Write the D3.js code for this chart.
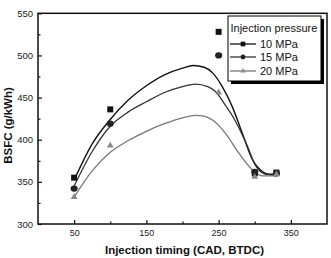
<!DOCTYPE html>
<html><head><meta charset="utf-8">
<script src="https://cdn.jsdelivr.net/npm/d3@7"></script>
<style>body{margin:0;background:#fff;} svg{display:block;font-family:"Liberation Sans",Arial,sans-serif;}</style>
</head><body>
<svg id="c" width="331" height="258"></svg>
<script>
// ---- data ----
const seriesNames = ["10 MPa", "15 MPa", "20 MPa"];
const timing = [50, 100, 250, 300, 330];
const bsfc10 = [355, 436, 528, 360, 361];
const bsfc15 = [342, 419, 500, 362, 360];
const bsfc20 = [332, 393, 456, 356, 359];
// fitted curves
const fitX10 = [50, 75, 100, 125, 150, 175, 200, 215, 230, 242, 255, 269, 283, 297, 311, 320, 330];
const fitY10 = [352, 395, 424, 447, 464, 477, 485, 488, 486, 479, 463, 439, 407, 376, 362, 359, 359];
const fitX15 = [50, 75, 100, 125, 150, 175, 200, 218, 235, 246, 260, 270, 288, 302, 315, 330];
const fitY15 = [345, 386, 416, 433, 445, 456, 463, 466, 463, 457, 440, 427, 396, 368, 359, 358];
const fitX20 = [50, 75, 100, 125, 150, 175, 200, 218, 230, 242, 260, 278, 297, 311, 330];
const fitY20 = [332, 363, 385, 399, 410, 419, 426, 429, 428, 423, 407, 384, 364, 357, 357];
const xMajor = [50, 150, 250, 350];
const xMinor = [100, 200, 300];
const yMajor = [300, 350, 400, 450, 500, 550];
const yMinor = [325, 375, 425, 475, 525];

const svg = d3.select("#c");
const L = 38, R = 327, T = 13.3, B = 224;
const x = d3.scaleLinear().domain([0, 400]).range([L, R]);
const y = d3.scaleLinear().domain([300, 550]).range([B, T]);

// axes
const ax = svg.append("g").attr("transform", `translate(0,${B})`)
  .call(d3.axisBottom(x).tickValues(xMajor).tickSize(-4).tickPadding(6).tickFormat(d3.format("d")));
svg.append("g").attr("transform", `translate(0,${B})`)
  .call(d3.axisBottom(x).tickValues(xMinor).tickSize(-2.5).tickFormat(""));
const ay = svg.append("g").attr("transform", `translate(${L},0)`)
  .call(d3.axisLeft(y).tickValues(yMajor).tickSize(-4).tickPadding(5).tickFormat(d3.format("d")));
svg.append("g").attr("transform", `translate(${L},0)`)
  .call(d3.axisLeft(y).tickValues(yMinor).tickSize(-2.5).tickFormat(""));
svg.selectAll(".domain").remove();
svg.selectAll(".tick line").attr("stroke", "#111").attr("stroke-width", 1.2);
ax.selectAll("text").attr("font-size", 9).attr("fill", "#222").attr("font-family", "Liberation Sans, Arial, sans-serif");
ay.selectAll("text").attr("font-size", 9.5).attr("fill", "#222").attr("font-family", "Liberation Sans, Arial, sans-serif");

// frame
svg.append("rect").attr("x", L).attr("y", T).attr("width", R - L).attr("height", B - T)
  .attr("fill", "none").attr("stroke", "#111").attr("stroke-width", 1.5);

// curves
const line = d3.line().x(d => x(d[0])).y(d => y(d[1])).curve(d3.curveMonotoneX);
const fits = [
  {xs: fitX10, ys: fitY10, color: "#111", w: 1.4},
  {xs: fitX15, ys: fitY15, color: "#333", w: 1.3},
  {xs: fitX20, ys: fitY20, color: "#777", w: 1.3}
];
fits.forEach(f => {
  svg.append("path").datum(f.xs.map((v, i) => [v, f.ys[i]]))
    .attr("d", line).attr("fill", "none").attr("stroke", f.color).attr("stroke-width", f.w);
});

// markers
const sym = [d3.symbolSquare, d3.symbolCircle, d3.symbolTriangle];
const symSize = [36, 30, 20];
const symColor = ["#111", "#222", "#888"];
const vals = [bsfc10, bsfc15, bsfc20];
vals.forEach((arr, s) => {
  svg.append("g").selectAll("path").data(arr).join("path")
    .attr("transform", (d, i) => `translate(${x(timing[i])},${y(d)})` + (s === 1 ? " scale(1.15,1)" : ""))
    .attr("d", d3.symbol().type(sym[s]).size(symSize[s]))
    .attr("fill", symColor[s]);
});

// legend
const lg = svg.append("g");
lg.append("rect").attr("x", 231).attr("y", 19).attr("width", 93).attr("height", 65).attr("fill", "#000");
lg.append("rect").attr("x", 228).attr("y", 16).attr("width", 93).attr("height", 65)
  .attr("fill", "#fff").attr("stroke", "#000").attr("stroke-width", 1);
lg.append("text").attr("x", 230.5).attr("y", 32).attr("font-size", 11).attr("fill", "#111")
  .text("Injection pressure");
const rowY = [44, 57, 71];
seriesNames.forEach((n, i) => {
  lg.append("line").attr("x1", 230).attr("x2", 256).attr("y1", rowY[i]).attr("y2", rowY[i])
    .attr("stroke", fits[i].color).attr("stroke-width", 1.3);
  lg.append("path").attr("transform", `translate(243,${rowY[i]})`)
    .attr("d", d3.symbol().type(sym[i]).size(symSize[i] * 0.6)).attr("fill", symColor[i]);
  lg.append("text").attr("x", 260).attr("y", rowY[i] + 4).attr("font-size", 11).attr("fill", "#111").text(n);
});

// axis titles
svg.append("text").attr("x", 184.5).attr("y", 253.5).attr("text-anchor", "middle")
  .attr("font-size", 11.5).attr("font-weight", "bold").attr("fill", "#111")
  .text("Injection timing (CAD, BTDC)");
svg.append("text").attr("transform", "translate(11.5,125.5) rotate(-90)").attr("text-anchor", "middle")
  .attr("font-size", 11.5).attr("font-weight", "bold").attr("fill", "#111")
  .text("BSFC (g/kWh)");
</script>
</body></html>
